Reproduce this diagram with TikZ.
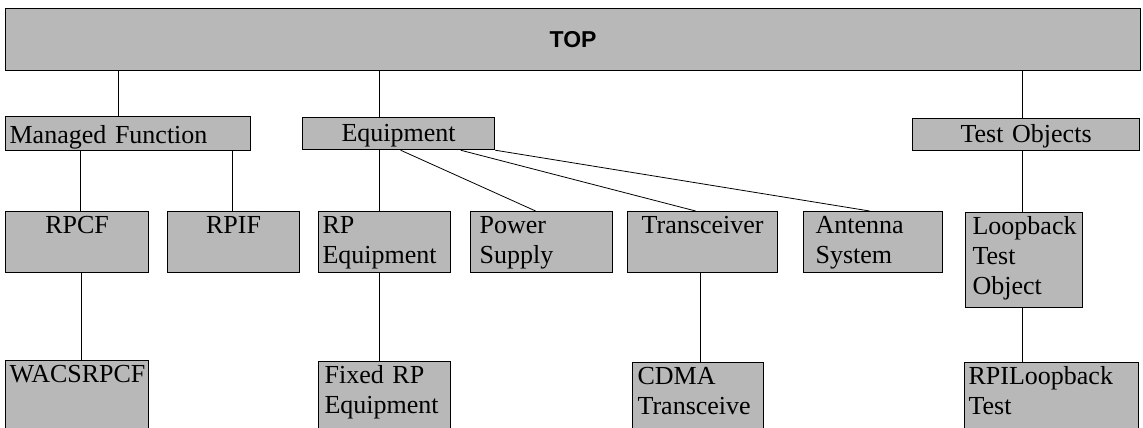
\documentclass[tikz,border=0pt]{standalone}
\usepackage{fontspec}
\setmainfont{Liberation Serif}
\newfontfamily\topfont{Liberation Sans}
\definecolor{boxgray}{gray}{0.72}

\tikzset{
    box/.style={draw, line width=1.2pt, fill=boxgray, anchor=north west, inner xsep=4pt, inner ysep=2pt, font=\fontsize{26}{30}\selectfont},
    row2/.style={box, text height=20pt, text depth=37pt},
    row3/.style={box, text height=20pt, text depth=80pt},
    link/.style={line width=0.8pt}
}

\begin{document}
\begin{tikzpicture}[x=1pt, y=-1pt]
    \useasboundingbox (0,0) rectangle (1143,428);
    \clip (0,0) rectangle (1143,428);

    \node[box, minimum width=1135pt, minimum height=62pt, font=\topfont\bfseries\fontsize{23}{28}\selectfont] (top) at (5,8) {TOP};

    % first level
    \node[box, text width=237pt, align=left, text height=25pt, text depth=5pt] (mf) at (5,116) {Managed Function};
    \node[box, text width=184pt, align=center, text height=22pt, text depth=6pt] (equip) at (302,117) {Equipment};
    \node[box, text width=219pt, align=center, text height=22pt, text depth=6pt] (testobj) at (912,118) {Test Objects};

    % second level
    \node[row2, text width=135pt, align=center] (rpcf) at (5,211) {RPCF};
    \node[row2, text width=124pt, align=center] (rpif) at (167,211) {RPIF};
    \node[row2, text width=124pt, align=left] (rpequip) at (318,211) {RP\\Equipment};
    \node[row2, text width=124pt, align=left, inner xsep=9pt] (power) at (470,211) {Power\\Supply};
    \node[row2, text width=142pt, align=center] (trans) at (627,211) {Transceiver};
    \node[row2, text width=115pt, align=left, inner xsep=12pt] (antenna) at (803,211) {Antenna\\System};
    \node[row2, text width=103pt, align=left, inner xsep=7pt, text depth=71pt] (loopback) at (965,212) {Loopback\\Test\\Object};

    % third level
    \node[row3, text width=135pt, align=center] (wacs) at (5,360) {WACSRPCF};
    \node[row3, text width=120pt, align=left, inner xsep=6pt] (fixedrp) at (318,361) {Fixed RP\\Equipment};
    \node[row3, text width=121pt, align=left, inner xsep=5pt] (cdma) at (632,362) {CDMA\\Transceive};
    \node[row3, text width=166pt, align=left] (rpiloop) at (964,362) {RPILoopback\\Test};

    % links
    \draw[link] ([xshift=-9.5pt]mf.north) -- ([xshift=-9.5pt]mf.north |- top.south);
    \draw[link] ([xshift=-19pt]equip.north) -- ([xshift=-19pt]equip.north |- top.south);
    \draw[link] ([xshift=-3.5pt]testobj.north) -- ([xshift=-3.5pt]testobj.north |- top.south);

    \draw[link] ([xshift=3.5pt]rpcf.north) -- ([xshift=3.5pt]rpcf.north |- mf.south);
    \draw[link] ([xshift=-1pt]rpif.north) -- ([xshift=-1pt]rpif.north |- mf.south);
    \draw[link] ([xshift=4.5pt]wacs.north) -- ([xshift=4.5pt]wacs.north |- rpcf.south);

    \draw[link] ([xshift=-5pt]rpequip.north) -- ([xshift=-5pt]rpequip.north |- equip.south);
    \draw[link] ([xshift=2pt]equip.south) -- ([xshift=-6pt]power.north);
    \draw[link] ([xshift=62pt]equip.south) -- ([xshift=-7pt]trans.north);
    \draw[link] (equip.south east) -- ([xshift=-3.5pt]antenna.north);
    \draw[link] ([xshift=-5pt]fixedrp.north) -- ([xshift=-5pt]fixedrp.north |- rpequip.south);
    \draw[link] ([xshift=2.5pt]cdma.north) -- ([xshift=2.5pt]cdma.north |- trans.south);

    \draw[link] ([xshift=-1.5pt]loopback.north) -- ([xshift=-1.5pt]loopback.north |- testobj.south);
    \draw[link] ([xshift=-29pt]rpiloop.north) -- ([xshift=-29pt]rpiloop.north |- loopback.south);

\end{tikzpicture}
\end{document}
